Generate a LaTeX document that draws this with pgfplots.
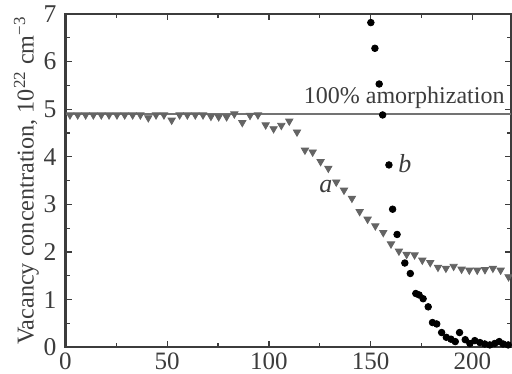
\documentclass[border=0pt]{standalone}
\usepackage{pgfplots}
\pgfplotsset{compat=1.18}
\usepackage{fontspec}
\setmainfont{Liberation Serif}
\definecolor{tri}{RGB}{100,100,100}
\definecolor{axc}{RGB}{60,60,60}
\definecolor{hl}{RGB}{115,115,115}
\begin{document}
\fontsize{11.5bp}{13bp}\selectfont
\begin{tikzpicture}
\clip (-32.75bp,-13.35bp) rectangle (223.25bp,173.65bp);
\begin{axis}[
  scale only axis,
  width=222.75bp, height=166.65bp,
  xmin=0, xmax=219, ymin=0, ymax=7,
  xtick={0,50,100,150,200},
  minor xtick={25,75,125,175},
  ytick={0,1,2,3,4,5,6,7},
  minor ytick={0.5,1.5,2.5,3.5,4.5,5.5,6.5},
  tick align=inside,
  major tick length=3bp, minor tick length=2bp,
  every tick/.style={axc, line width=0.6bp},
  axis line style={axc, line width=1.1bp},
  tick label style={font=\fontsize{12.8bp}{15bp}\selectfont, text=axc},
  /pgf/number format/assume math mode=true,
  yticklabel style={xshift=-0.5bp},
  xticklabel style={yshift=1bp, font=\fontsize{12.5bp}{14bp}\selectfont},
  ylabel={Vacancy concentration, 10\textsuperscript{22} cm\textsuperscript{−3}},
  ylabel style={font=\fontsize{12.1bp}{14bp}\selectfont, text=axc, yshift=-5.5bp},
  clip=false,
]
\addplot [hl, line width=0.9bp, forget plot] coordinates {(0,4.9) (219,4.9)};
\addplot [only marks, mark=triangle*, mark size=2.1bp, mark options={rotate=180, fill=tri, draw=tri}] coordinates {
(2.2,4.88) (6.0,4.88) (9.9,4.88) (13.7,4.88) (17.6,4.88) (21.4,4.88) (25.3,4.88)
(29.1,4.88) (33.0,4.88) (36.8,4.88) (40.7,4.82) (44.5,4.88) (48.4,4.88) (52.2,4.77)
(56.1,4.88) (59.9,4.88) (63.8,4.88) (67.6,4.88) (71.5,4.85) (75.3,4.84) (79.2,4.84)
(83.0,4.90) (86.9,4.72) (90.7,4.87) (94.6,4.88) (98.4,4.67) (102.3,4.59) (106.1,4.66)
(110.0,4.75) (113.8,4.52) (117.7,4.14) (121.5,4.10) (125.4,3.90) (129.2,3.76) (133.1,3.47)
(136.9,3.30) (140.8,3.13) (144.6,2.85) (148.5,2.69) (152.3,2.55) (156.2,2.41) (160.0,2.17)
(163.9,2.02) (167.7,1.95) (171.6,1.94) (175.4,1.83) (179.3,1.78) (183.1,1.68) (187.0,1.66)
(190.8,1.70) (194.7,1.64) (198.5,1.62) (202.4,1.62) (206.2,1.63) (210.1,1.66) (213.9,1.62)
(217.8,1.48)
};
\addplot [only marks, mark=*, mark size=1.65bp, mark options={fill=black, draw=black}] coordinates {
(150.1,6.82) (152.1,6.28) (154.2,5.53) (155.9,4.88) (159.0,3.83) (160.8,2.90) (163.0,2.37)
(166.8,1.77) (169.5,1.55) (172.2,1.13) (173.8,1.10) (175.8,1.02) (178.3,0.85) (180.4,0.52)
(182.5,0.49) (184.9,0.31) (187.2,0.21) (189.5,0.17) (191.6,0.12) (193.7,0.31) (196.5,0.16)
(198.8,0.08) (201.2,0.14) (203.7,0.10) (206.1,0.07) (208.6,0.05) (211.0,0.08) (213.2,0.12)
(215.1,0.07) (217.6,0.05)
};
\node [text=axc, font=\fontsize{12bp}{14bp}\selectfont] at (axis cs:166.5,5.24) {100\% amorphization};
\node [text=axc, font=\fontsize{13bp}{15bp}\selectfont\itshape] at (axis cs:128,3.38) {a};
\node [text=axc, font=\fontsize{13bp}{15bp}\selectfont\itshape] at (axis cs:166.8,3.85) {b};
\end{axis}
\end{tikzpicture}
\end{document}
